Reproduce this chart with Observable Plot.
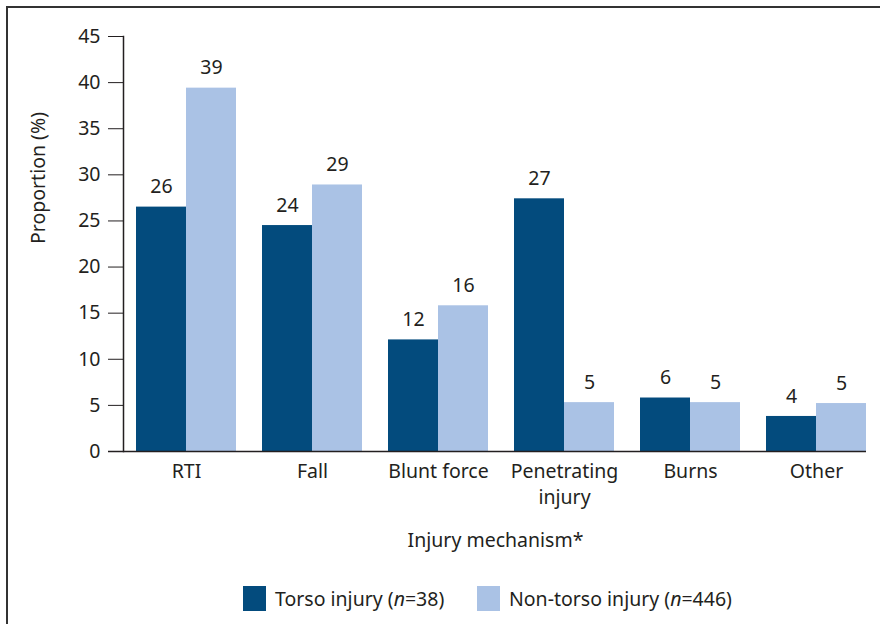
<!DOCTYPE html>
<html><head><meta charset="utf-8">
<script src="https://cdn.jsdelivr.net/npm/d3@7"></script>
<script src="https://cdn.jsdelivr.net/npm/@observablehq/plot@0.6"></script>
<style>
body{margin:0;background:#fff;font-family:"Noto Sans",sans-serif;color:#231f20;}
#frame{position:absolute;left:6px;top:6px;width:900px;height:700px;border-top:2px solid #333;border-left:2px solid #333;}
#chart{position:absolute;left:0;top:0;}
.lg{position:absolute;top:585px;display:flex;align-items:center;font-size:19.5px;white-space:nowrap;}
.sw{width:23px;height:25px;margin-right:9px;}
</style></head>
<body>
<div id="frame"></div>
<div id="chart"></div>
<div class="lg" style="left:243px"><div class="sw" style="background:#034b7d"></div><span>Torso injury (<i>n</i>=38)</span></div>
<div class="lg" style="left:477px"><div class="sw" style="background:#aac2e5"></div><span>Non-torso injury (<i>n</i>=446)</span></div>
<script>
const categories = ["RTI","Fall","Blunt force","Penetrating injury","Burns","Other"];
const torso = [26.5,24.5,12.1,27.4,5.8,3.8];
const nonTorso = [39.4,28.9,15.8,5.3,5.3,5.2];
const torsoLabels = [26,24,12,27,6,4];
const nonTorsoLabels = [39,29,16,5,5,5];
const yTicks = [0,5,10,15,20,25,30,35,40,45];

const dark = "#034b7d", light = "#aac2e5";
const FS = 19.5;
const tData = categories.map((c,i)=>({c, v:torso[i], l:torsoLabels[i]}));
const nData = categories.map((c,i)=>({c, v:nonTorso[i], l:nonTorsoLabels[i]}));
const fmt = d => d === "Penetrating injury" ? "Penetrating\ninjury" : d;

const chart = Plot.plot({
  width: 880, height: 560,
  marginLeft: 123, marginRight: 1, marginTop: 36, marginBottom: 109,
  style: {fontFamily: '"Noto Sans", sans-serif', fontSize: FS + "px", color: "#231f20", background: "transparent"},
  x: {domain: categories, paddingInner: 26/126, paddingOuter: 0.103, axis: null},
  y: {domain: [0,45], axis: null},
  marks: [
    Plot.barY(tData, {x:"c", y:"v", fill: dark, insetRight: 50}),
    Plot.barY(nData, {x:"c", y:"v", fill: light, insetLeft: 50}),
    Plot.text(tData, {x:"c", y:"v", text:"l", dx:-25, dy:-20, fontSize:FS, fill:"#231f20"}),
    Plot.text(nData, {x:"c", y:"v", text:"l", dx:25, dy:-20, fontSize:FS, fill:"#231f20"}),
    Plot.axisY({ticks: yTicks, tickSize: 15, tickPadding: 8, label: null, fontSize: FS, stroke: "#231f20"}),
    Plot.axisX({tickSize: 0, tickPadding: 8, tickFormat: fmt, label: null, fontSize: FS, lineHeight: 1.32}),
    Plot.frame({anchor: "left", stroke: "#231f20", strokeWidth: 1.5}),
    Plot.ruleY([0], {stroke: "#231f20", strokeWidth: 1.5, insetLeft: -15, insetRight: 13}),
    Plot.text(["Injury mechanism*"], {frameAnchor: "bottom", dy: 95, dx: -6, fontSize: FS, fill:"#231f20"}),
    Plot.text(["Proportion (%)"], {frameAnchor: "left", dx: -85, rotate: -90, fontSize: FS, fill:"#231f20"})
  ]
});
document.getElementById("chart").append(chart);
</script>
</body></html>
